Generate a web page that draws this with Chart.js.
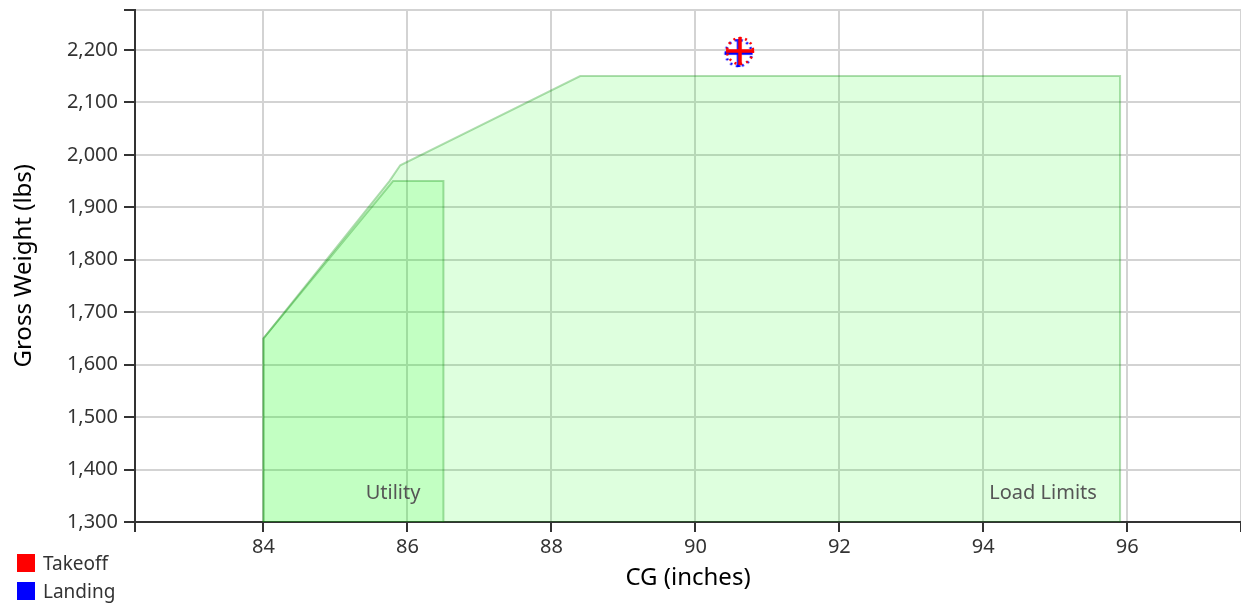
<!DOCTYPE html>
<html>
<head>
<meta charset="utf-8">
<script src="https://cdn.jsdelivr.net/npm/chart.js@4.4.1/dist/chart.umd.min.js"></script>
<style>
html,body{margin:0;padding:0;background:#fff;}
#wrap{position:relative;width:1241px;height:605px;}
#legend{position:absolute;left:17px;top:549px;font-family:"Noto Sans",sans-serif;font-size:19px;color:#333;line-height:28px;}
#legend div{display:flex;align-items:center;}
#legend span.sw{display:inline-block;width:18px;height:18px;margin-right:8px;}
</style>
</head>
<body>
<div id="wrap">
<canvas id="c" width="1241" height="605"></canvas>
<div id="legend"></div>
</div>
<script>
// ---- data ----
const xRange = [82.215, 97.58];
const yRange = [1300, 2277];
const xTickValues = [84, 86, 88, 90, 92, 94, 96];
const yTickValues = [1300, 1400, 1500, 1600, 1700, 1800, 1900, 2000, 2100, 2200];

const loadLimitsCG = [84, 84, 85.75, 85.9, 88.4, 95.9, 95.9];
const loadLimitsW  = [1300, 1650, 1950, 1980, 2150, 2150, 1300];
const utilityCG = [84, 84, 85.8, 86.5, 86.5];
const utilityW  = [1300, 1650, 1950, 1950, 1300];

const pointLabels = ['Takeoff', 'Landing'];
const pointColors = ['#ff0000', '#0000ff'];
const pointCG = [90.62, 90.6];
const pointW  = [2198, 2194];

const areaLabels = ['Utility', 'Load Limits'];
const areaLabelCG = [85.8, 94.83];
const areaLabelW  = [1355, 1355];

// ---- helpers ----
const FONT = '"Noto Sans", sans-serif';
function pts(xs, ys){ return xs.map((x,i)=>({x:x, y:ys[i]})); }
function markerCanvas(color, dashOffset){
  const c = document.createElement('canvas');
  c.width = 34; c.height = 34;
  const g = c.getContext('2d');
  g.strokeStyle = color;
  g.lineWidth = 2.5;
  g.setLineDash([2, 4]);
  g.lineDashOffset = dashOffset;
  g.beginPath(); g.arc(17,17,13,0,Math.PI*2); g.stroke();
  g.setLineDash([]);
  g.lineWidth = 3.5;
  g.beginPath(); g.moveTo(17,3); g.lineTo(17,31); g.moveTo(3,17); g.lineTo(31,17); g.stroke();
  return c;
}

const datasets = [
  {
    label: 'Load Limits', type:'line', data: pts(loadLimitsCG, loadLimitsW),
    showLine:true, fill:'shape', tension:0, pointRadius:0, pointHoverRadius:0,
    backgroundColor:'rgba(0,255,0,0.13)', borderColor:'rgba(0,140,0,0.3)', borderWidth:2, order:3
  },
  {
    label: 'Utility', type:'line', data: pts(utilityCG, utilityW),
    showLine:true, fill:'shape', tension:0, pointRadius:0, pointHoverRadius:0,
    backgroundColor:'rgba(0,255,0,0.13)', borderColor:'rgba(0,140,0,0.3)', borderWidth:2, order:2
  }
];
[1,0].forEach(i=>{
  datasets.push({
    label: pointLabels[i], type:'scatter', data:[{x:pointCG[i], y:pointW[i]}],
    pointStyle: markerCanvas(pointColors[i], i*3), pointRadius:17,
    backgroundColor: pointColors[i], borderColor: pointColors[i], order: i===0?0:1
  });
});

const areaLabelPlugin = {
  id:'areaLabels',
  afterDatasetsDraw(chart){
    const {ctx, scales:{x, y}} = chart;
    ctx.save();
    ctx.font = '20px ' + FONT;
    ctx.fillStyle = '#555';
    ctx.textAlign = 'center';
    ctx.textBaseline = 'middle';
    areaLabels.forEach((t,i)=>{
      ctx.fillText(t, x.getPixelForValue(areaLabelCG[i]), y.getPixelForValue(areaLabelW[i]));
    });
    ctx.restore();
  }
};

new Chart(document.getElementById('c'), {
  type:'scatter',
  data:{datasets},
  options:{
    responsive:false, animation:false,
    layout:{autoPadding:false, padding:{top:9.5, right:0, left:0, bottom:0}},
    plugins:{legend:{display:false}, tooltip:{enabled:false}},
    scales:{
      x:{
        type:'linear', min:xRange[0], max:xRange[1],
        afterBuildTicks(s){ s.ticks = [xRange[0], ...xTickValues, xRange[1]].map(v=>({value:v})); },
        afterFit(s){ s.height = 83; s.paddingLeft = 0; s.paddingRight = 0; },
        ticks:{ autoSkip:false, maxRotation:0, padding:3, color:'#333', font:{family:FONT, size:20},
          callback(v){ return xTickValues.includes(v) ? String(v) : ''; } },
        grid:{ color:'#d3d3d3', lineWidth:2, tickColor:'#333', tickLength:10 },
        border:{ color:'#333', width:2 },
        title:{ display:true, text:'CG (inches)', color:'#000', font:{family:FONT, size:24}, padding:{top:0, bottom:12} }
      },
      y:{
        type:'linear', min:yRange[0], max:yRange[1],
        afterBuildTicks(s){ s.ticks = [...yTickValues, yRange[1]].map(v=>({value:v})); },
        afterFit(s){ s.width = 135; s.paddingTop = 0; s.paddingBottom = 0; },
        ticks:{ autoSkip:false, padding:6, color:'#333', font:{family:FONT, size:20},
          callback(v){ return yTickValues.includes(v) ? v.toLocaleString('en-US') : ''; } },
        grid:{ color:'#d3d3d3', lineWidth:2, tickColor:'#333', tickLength:11 },
        border:{ color:'#333', width:2 },
        title:{ display:true, text:'Gross Weight (lbs)', color:'#000', font:{family:FONT, size:24}, padding:{top:10, bottom:4} }
      }
    }
  },
  plugins:[areaLabelPlugin]
});

const lg = document.getElementById('legend');
pointLabels.forEach((l,i)=>{
  const d = document.createElement('div');
  const s = document.createElement('span'); s.className='sw'; s.style.background = pointColors[i];
  d.appendChild(s); d.appendChild(document.createTextNode(l));
  lg.appendChild(d);
});
</script>
</body>
</html>
